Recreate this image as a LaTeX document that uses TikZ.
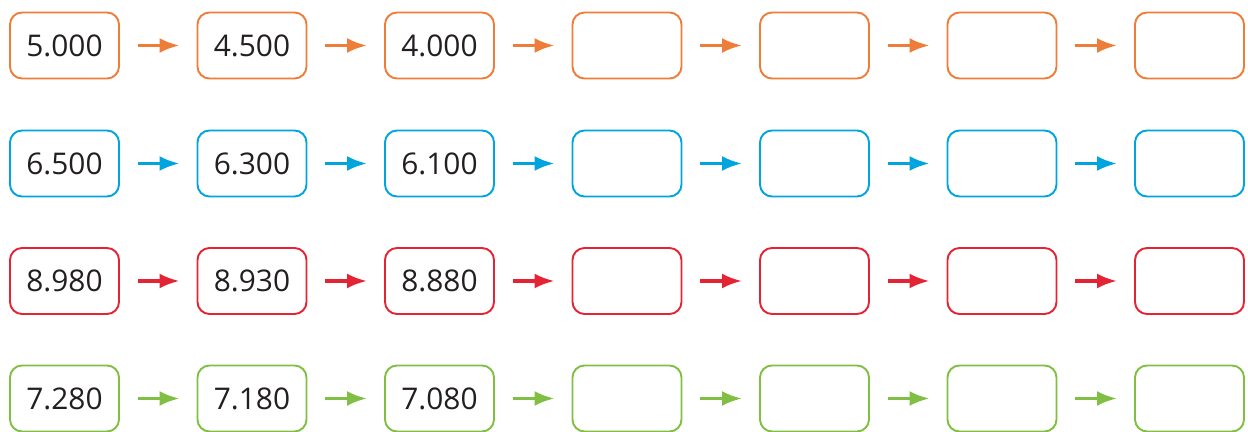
\documentclass[tikz,border=0pt]{standalone}
\usepackage{fontspec}
\setmainfont{Open Sans}
\usepackage{tikz}
\usetikzlibrary{arrows.meta}
\definecolor{rowO}{RGB}{238,125,58}
\definecolor{rowB}{RGB}{0,164,222}
\definecolor{rowR}{RGB}{228,36,52}
\definecolor{rowG}{RGB}{128,190,68}
\definecolor{txt}{RGB}{35,31,32}
\tikzstyle{box} = [line width=1.1pt, rounded corners=0.24cm, minimum width=2.18cm, minimum height=1.32cm, inner sep=0pt, text=txt, font=\fontsize{17}{20}\selectfont]
\tikzstyle{arrow} = [-{Latex[length=0.4cm,width=0.3cm]}, line width=1.9pt, shorten <=0.36cm, shorten >=0.34cm]

\begin{document}
\begin{tikzpicture}
\useasboundingbox (0,0) rectangle (24.96,-8.64);
% orange row
\node[box,draw=rowO] (o1) at (1.29,-0.91) {5.000};
\node[box,draw=rowO] (o2) at (5.04,-0.91) {4.500};
\node[box,draw=rowO] (o3) at (8.79,-0.91) {4.000};
\node[box,draw=rowO] (o4) at (12.54,-0.91) {};
\node[box,draw=rowO] (o5) at (16.29,-0.91) {};
\node[box,draw=rowO] (o6) at (20.04,-0.91) {};
\node[box,draw=rowO] (o7) at (23.79,-0.91) {};
\draw[arrow,rowO] (o1) -- (o2);
\draw[arrow,rowO] (o2) -- (o3);
\draw[arrow,rowO] (o3) -- (o4);
\draw[arrow,rowO] (o4) -- (o5);
\draw[arrow,rowO] (o5) -- (o6);
\draw[arrow,rowO] (o6) -- (o7);
% blue row
\node[box,draw=rowB] (b1) at (1.29,-3.27) {6.500};
\node[box,draw=rowB] (b2) at (5.04,-3.27) {6.300};
\node[box,draw=rowB] (b3) at (8.79,-3.27) {6.100};
\node[box,draw=rowB] (b4) at (12.54,-3.27) {};
\node[box,draw=rowB] (b5) at (16.29,-3.27) {};
\node[box,draw=rowB] (b6) at (20.04,-3.27) {};
\node[box,draw=rowB] (b7) at (23.79,-3.27) {};
\draw[arrow,rowB] (b1) -- (b2);
\draw[arrow,rowB] (b2) -- (b3);
\draw[arrow,rowB] (b3) -- (b4);
\draw[arrow,rowB] (b4) -- (b5);
\draw[arrow,rowB] (b5) -- (b6);
\draw[arrow,rowB] (b6) -- (b7);
% red row
\node[box,draw=rowR] (r1) at (1.29,-5.62) {8.980};
\node[box,draw=rowR] (r2) at (5.04,-5.62) {8.930};
\node[box,draw=rowR] (r3) at (8.79,-5.62) {8.880};
\node[box,draw=rowR] (r4) at (12.54,-5.62) {};
\node[box,draw=rowR] (r5) at (16.29,-5.62) {};
\node[box,draw=rowR] (r6) at (20.04,-5.62) {};
\node[box,draw=rowR] (r7) at (23.79,-5.62) {};
\draw[arrow,rowR] (r1) -- (r2);
\draw[arrow,rowR] (r2) -- (r3);
\draw[arrow,rowR] (r3) -- (r4);
\draw[arrow,rowR] (r4) -- (r5);
\draw[arrow,rowR] (r5) -- (r6);
\draw[arrow,rowR] (r6) -- (r7);
% green row
\node[box,draw=rowG] (g1) at (1.29,-7.97) {7.280};
\node[box,draw=rowG] (g2) at (5.04,-7.97) {7.180};
\node[box,draw=rowG] (g3) at (8.79,-7.97) {7.080};
\node[box,draw=rowG] (g4) at (12.54,-7.97) {};
\node[box,draw=rowG] (g5) at (16.29,-7.97) {};
\node[box,draw=rowG] (g6) at (20.04,-7.97) {};
\node[box,draw=rowG] (g7) at (23.79,-7.97) {};
\draw[arrow,rowG] (g1) -- (g2);
\draw[arrow,rowG] (g2) -- (g3);
\draw[arrow,rowG] (g3) -- (g4);
\draw[arrow,rowG] (g4) -- (g5);
\draw[arrow,rowG] (g5) -- (g6);
\draw[arrow,rowG] (g6) -- (g7);
\end{tikzpicture}
\end{document}
